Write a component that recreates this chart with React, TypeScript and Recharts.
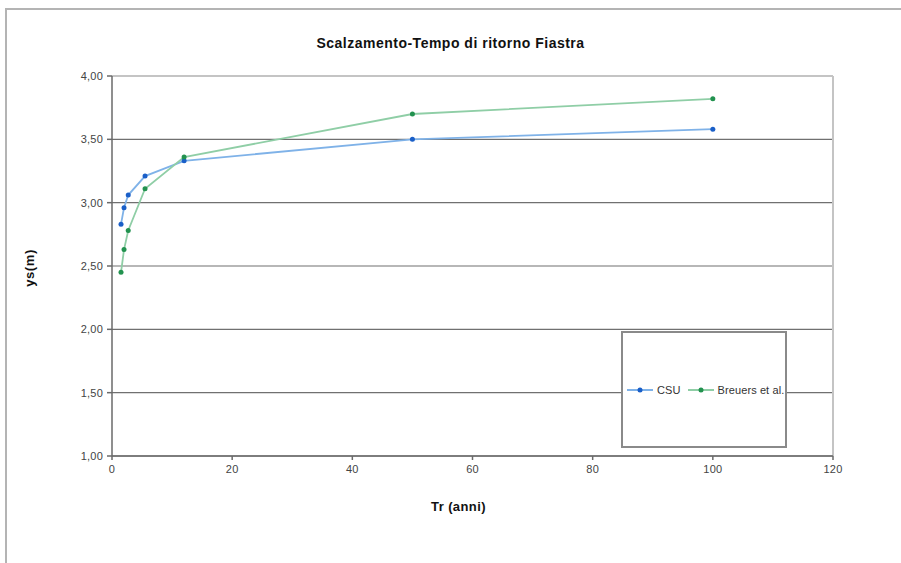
import { CartesianGrid, Legend, Line, LineChart, ReferenceLine, XAxis, YAxis } from "recharts";

// return period (years) and scour depth (m)
const tr = [1.5, 2, 2.7, 5.5, 12, 50, 100];
const csu = [2.83, 2.96, 3.06, 3.21, 3.33, 3.5, 3.58];
const breuers = [2.45, 2.63, 2.78, 3.11, 3.36, 3.7, 3.82];

const xTicks = [0, 20, 40, 60, 80, 100, 120];
const yTicks = [1, 1.5, 2, 2.5, 3, 3.5, 4];

const seriesNames = ["CSU", "Breuers et al."];
const lineColors = ["#7fb2e8", "#8fceA6"];
const dotColors = ["#1a5fc8", "#22924f"];

const font = "'Liberation Sans', Arial, sans-serif";
const tickStyle = { fontSize: 11, fill: "#444", fontFamily: font, letterSpacing: 0.2 };

const rows = tr.map((x, i) => ({ tr: x, csu: csu[i], breuers: breuers[i] }));

const fmt = (v: number) => v.toFixed(2).replace(".", ",");

function LegendBox() {
  return (
    <div
      style={{
        width: "100%",
        height: "100%",
        boxSizing: "border-box",
        border: "2px solid #8a8a8a",
        background: "#fff",
        display: "flex",
        alignItems: "center",
        paddingLeft: 4,
        fontFamily: font,
        fontSize: 11,
        letterSpacing: 0.1,
        color: "#333",
        whiteSpace: "nowrap",
        overflow: "visible",
      }}
    >
      {seriesNames.map((name, i) => (
        <span
          key={name}
          style={{ display: "flex", alignItems: "center", flexShrink: 0, marginRight: i === 0 ? 7 : 0 }}
        >
          <svg width={26} height={8} style={{ marginRight: 4 }}>
            <line x1={0} y1={4} x2={26} y2={4} stroke={lineColors[i]} strokeWidth={2} />
            <circle cx={13} cy={4} r={2.5} fill={dotColors[i]} />
          </svg>
          {name}
        </span>
      ))}
    </div>
  );
}

export default function App() {
  return (
    <div
      style={{
        position: "fixed",
        left: 0,
        top: 0,
        width: 901,
        height: 563,
        overflow: "hidden",
        background: "#fff",
        fontFamily: font,
      }}
    >
      <div
        style={{
          position: "absolute",
          left: 5,
          top: 8,
          width: 1000,
          height: 700,
          border: "2px solid #b4b4b4",
        }}
      />
      <div
        style={{
          position: "absolute",
          left: 0,
          width: 901,
          top: 35,
          textAlign: "center",
          fontSize: 14,
          letterSpacing: 0.5,
          fontWeight: "bold",
          color: "#111",
        }}
      >
        Scalzamento-Tempo di ritorno Fiastra
      </div>
      <div
        style={{
          position: "absolute",
          left: 0,
          width: 901,
          top: 499,
          textAlign: "center",
          paddingLeft: 8,
          fontSize: 13,
          letterSpacing: 0.4,
          fontWeight: "bold",
          color: "#111",
        }}
      >
        Tr (anni)
      </div>
      <div
        style={{
          position: "absolute",
          left: 29,
          top: 268,
          transform: "translate(-50%, -50%) rotate(-90deg)",
          fontSize: 13,
          letterSpacing: 0.6,
          fontWeight: "bold",
          color: "#111",
          whiteSpace: "nowrap",
        }}
      >
        ys(m)
      </div>
      <div style={{ position: "absolute", left: 0, top: 0 }}>
        <LineChart
          width={901}
          height={563}
          data={rows}
          margin={{ top: 76, right: 68, bottom: 77, left: 62 }}
        >
          <CartesianGrid vertical={false} stroke="#707070" strokeWidth={1.2} />
          <ReferenceLine y={4} stroke="#c4c4c4" strokeWidth={2} />
          <ReferenceLine x={120} stroke="#c4c4c4" strokeWidth={2} />
          <XAxis
            type="number"
            dataKey="tr"
            domain={[0, 120]}
            ticks={xTicks}
            stroke="#6a6a6a"
            strokeWidth={1.5}
            tickSize={4}
            tickMargin={5}
            height={30}
            tick={tickStyle}
          />
          <YAxis
            type="number"
            domain={[1, 4]}
            ticks={yTicks}
            tickFormatter={fmt}
            stroke="#6a6a6a"
            strokeWidth={1.5}
            tickSize={5}
            tickMargin={4}
            width={50}
            tick={tickStyle}
          />
          <Line
            dataKey="csu"
            name={seriesNames[0]}
            stroke={lineColors[0]}
            strokeWidth={1.8}
            dot={{ r: 2.5, fill: dotColors[0], stroke: "none" }}
            isAnimationActive={false}
          />
          <Line
            dataKey="breuers"
            name={seriesNames[1]}
            stroke={lineColors[1]}
            strokeWidth={1.8}
            dot={{ r: 2.5, fill: dotColors[1], stroke: "none" }}
            isAnimationActive={false}
          />
          <Legend
            layout="horizontal"
            align="center"
            verticalAlign="middle"
            content={<LegendBox />}
            wrapperStyle={{ position: "absolute", left: 621, top: 331, width: 166, height: 117 }}
          />
        </LineChart>
      </div>
    </div>
  );
}
